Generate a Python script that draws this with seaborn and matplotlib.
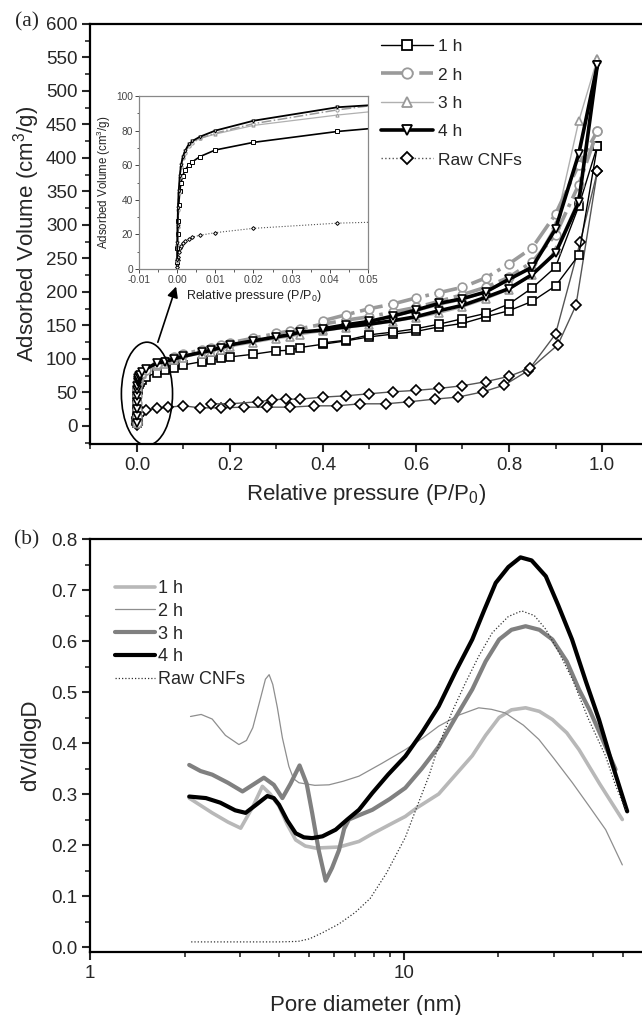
import matplotlib
matplotlib.use("Agg")
import matplotlib.pyplot as plt
import seaborn as sns
import numpy as np
from matplotlib.lines import Line2D
from matplotlib.patches import Ellipse
from matplotlib.ticker import MultipleLocator, FixedLocator, NullFormatter

# ---------------- data: panel (a) N2 isotherms ----------------
SAMPLES = ["1 h", "2 h", "3 h", "4 h", "Raw CNFs"]

P_ADS = [1e-5, 5e-5, 1e-4, 2e-4, 4e-4, 7e-4, 0.001, 0.0015, 0.002, 0.003, 0.004, 0.006, 0.01, 0.02, 0.042,
         0.06, 0.08, 0.10, 0.14, 0.16, 0.18, 0.20, 0.25, 0.30, 0.33, 0.35, 0.40, 0.45, 0.50, 0.55, 0.60,
         0.65, 0.70, 0.75, 0.80, 0.85, 0.90, 0.95, 0.99]
V_ADS_1H = [4, 12, 20, 28, 37, 45, 50, 54, 57, 60, 62, 65, 68.8, 73.2, 79.5,
            83, 87, 91, 96, 98, 101, 103, 107, 112, 113, 117, 122, 127, 133, 137, 141,
            148, 153, 163, 172, 186, 209, 255, 418]
V_ADS_2H = [4.5, 14, 24, 34, 44, 53, 59, 64, 67, 71, 73, 75.5, 78.5, 84, 92,
            97, 103, 107, 114, 117, 121, 124, 131, 138, 142, 145, 152, 158, 163, 170, 177,
            186, 196, 207, 222, 245, 285, 360, 440]
V_ADS_3H = [5, 15, 25, 35, 45, 54, 60, 65, 68, 71.5, 73.5, 75.5, 78, 83, 89,
            93, 98, 102, 108, 111, 114, 118, 124, 130, 133, 136, 141, 146, 150, 155, 161,
            168, 177, 189, 203, 225, 262, 340, 548]
V_ADS_4H = [5, 15, 25, 35, 45, 54, 60, 65, 68, 72, 74, 76.5, 80, 85.7, 93.5,
            96, 100, 104, 110, 113, 117, 121, 127, 133, 136, 140, 143, 148, 152, 157, 163,
            172, 180, 192, 205, 226, 258, 334, 539]

P_DES = [0.99, 0.95, 0.90, 0.85, 0.80, 0.75, 0.70, 0.65, 0.60, 0.55, 0.50, 0.45, 0.40]
V_DES_1H = [418, 328, 237, 206, 182, 168, 160, 152, 145, 140, 136, 128, 124]
V_DES_2H = [440, 390, 316, 266, 242, 221, 207, 199, 191, 182, 175, 166, 157]
V_DES_3H = [548, 455, 300, 240, 217, 199, 188, 180, 171, 163, 156, 150, 143]
V_DES_4H = [539, 406, 294, 237, 219, 200, 190, 183, 173, 164, 156, 151, 145]

P_RAW_ADS = [1e-5, 5e-5, 1e-4, 2e-4, 4e-4, 7e-4, 0.001, 0.0015, 0.002, 0.003, 0.004, 0.006, 0.01, 0.02, 0.042,
             0.067, 0.10, 0.135, 0.18, 0.23, 0.28, 0.33, 0.38, 0.43, 0.48, 0.535, 0.585, 0.64, 0.69,
             0.745, 0.79, 0.84, 0.905, 0.944, 0.99]
V_RAW_ADS = [1, 3, 5, 7, 10, 12, 13.5, 15, 16, 17.5, 18.5, 19.5, 21, 23.5, 26.5,
             28, 30, 27, 27, 28, 28, 28, 30, 30, 33, 33, 36, 40, 43,
             51, 61, 82, 121, 180, 380]
P_RAW_DES = [0.99, 0.953, 0.90, 0.845, 0.80, 0.75, 0.70, 0.65, 0.60, 0.55, 0.50, 0.45, 0.40,
             0.35, 0.32, 0.29, 0.26, 0.20, 0.16]
V_RAW_DES = [380, 274, 137, 86, 74, 66, 60, 56, 53, 51, 48, 45, 43, 40, 40, 39, 36, 33, 33]

# ---------------- data: panel (b) pore size distribution ----------------
D_1H = [2.07, 2.45, 2.75, 3.02, 3.3, 3.54, 3.75, 4.0, 4.25, 4.52, 4.85, 5.23, 6.21, 7.19, 7.93, 9.2,
        10.1, 11.0, 12.9, 14.0, 15.2, 16.5, 18.2, 20.1, 22, 24.4, 27, 29.7, 33, 36.1, 42, 49.6]
PSD_1H = [0.292, 0.263, 0.245, 0.233, 0.275, 0.315, 0.300, 0.276, 0.240, 0.210, 0.198, 0.194, 0.196,
          0.207, 0.222, 0.243, 0.256, 0.273, 0.300, 0.325, 0.350, 0.375, 0.415, 0.450, 0.465, 0.469,
          0.462, 0.446, 0.420, 0.387, 0.320, 0.250]
D_2H = [2.09, 2.26, 2.45, 2.7, 2.98, 3.15, 3.3, 3.5, 3.62, 3.72, 3.82, 3.95, 4.1, 4.3, 4.45, 4.63,
        5.2, 5.77, 6.4, 7.19, 8.5, 10.1, 11.5, 12.9, 15, 17.3, 19, 21, 24, 26.9, 30, 34.4, 39, 43.9, 49.6]
PSD_2H = [0.452, 0.456, 0.447, 0.415, 0.397, 0.405, 0.430, 0.490, 0.525, 0.534, 0.515, 0.470, 0.410,
          0.354, 0.330, 0.322, 0.317, 0.318, 0.325, 0.335, 0.360, 0.387, 0.410, 0.433, 0.455, 0.469,
          0.466, 0.459, 0.435, 0.407, 0.370, 0.322, 0.275, 0.230, 0.161]
D_3H = [2.07, 2.25, 2.45, 2.75, 3.06, 3.3, 3.58, 3.85, 4.10, 4.35, 4.65, 4.9, 5.1, 5.35, 5.63, 5.9,
        6.21, 6.45, 6.68, 7.3, 7.93, 9.0, 10.1, 11.4, 12.9, 14.6, 16.5, 18.2, 20.1, 22, 24.4, 27,
        29.7, 33, 36.1, 39, 42, 47.2]
PSD_3H = [0.357, 0.345, 0.338, 0.322, 0.305, 0.318, 0.332, 0.318, 0.292, 0.320, 0.356, 0.320, 0.263,
          0.190, 0.130, 0.155, 0.190, 0.232, 0.250, 0.260, 0.269, 0.290, 0.312, 0.350, 0.393, 0.450,
          0.505, 0.560, 0.603, 0.622, 0.629, 0.622, 0.603, 0.560, 0.505, 0.465, 0.420, 0.348]
D_4H = [2.07, 2.34, 2.6, 2.9, 3.13, 3.4, 3.67, 3.85, 4.0, 4.25, 4.52, 4.8, 5.1, 5.5, 6.06, 6.6, 7.19,
        7.93, 8.9, 10.1, 11.4, 12.9, 14.6, 16.5, 18, 19.6, 21.5, 23.5, 25.5, 28.3, 31, 34.3, 38,
        41.8, 46, 51.4]
PSD_4H = [0.295, 0.292, 0.283, 0.268, 0.263, 0.280, 0.296, 0.292, 0.279, 0.248, 0.223, 0.215, 0.2135,
          0.217, 0.230, 0.250, 0.269, 0.302, 0.338, 0.374, 0.420, 0.472, 0.540, 0.603, 0.660, 0.714,
          0.745, 0.764, 0.758, 0.727, 0.670, 0.603, 0.520, 0.446, 0.360, 0.266]
D_RAW = [2.1, 3.0, 4.0, 4.6, 5.0, 5.5, 6.2, 7.0, 7.8, 8.8, 10.1, 11.0, 12.0, 12.9, 14.2, 15.7, 17.3,
         19.1, 21.5, 23.7, 26, 28.3, 31, 34.4, 38.5, 43.9, 47, 50.8]
PSD_RAW = [0.01, 0.01, 0.01, 0.011, 0.016, 0.028, 0.045, 0.068, 0.095, 0.145, 0.215, 0.275, 0.335,
           0.395, 0.460, 0.518, 0.570, 0.616, 0.648, 0.659, 0.650, 0.623, 0.580, 0.525, 0.450, 0.374,
           0.320, 0.269]

# ---------------- style ----------------
sns.set_style("ticks")
plt.rcParams["font.family"] = ["Liberation Sans", "DejaVu Sans"]
plt.rcParams["mathtext.fontset"] = "custom"
plt.rcParams["mathtext.rm"] = "Liberation Sans"
plt.rcParams["mathtext.it"] = "Liberation Sans:italic"

W, H = 642, 1015
fig = plt.figure(figsize=(W / 100, H / 100), dpi=100)


def box(l, t, r, b):
    return [l / W, 1 - b / H, (r - l) / W, (b - t) / H]


ax1 = fig.add_axes(box(90, 24, 642, 444))
ax2 = fig.add_axes(box(90, 539, 642, 952))

# styles for panel (a): main line width, inset line width
ISO = {
    "1 h": dict(color="black", lw=1.0, lwi=1.2, ls="-", marker="s", mec="black"),
    "2 h": dict(color="#9a9a9a", lw=2.6, lwi=1.1, ls="-.", marker="o", mec="#9a9a9a"),
    "3 h": dict(color="#b0b0b0", lw=1.0, lwi=0.9, ls="-", marker="^", mec="#999999"),
    "4 h": dict(color="black", lw=2.6, lwi=1.3, ls="-", marker="v", mec="black"),
    "Raw CNFs": dict(color="#555555", lw=1.0, lwi=0.8, ls=":", marker="D", mec="black"),
}
ISO_DATA = {
    "1 h": [(P_ADS, V_ADS_1H), (P_DES, V_DES_1H)],
    "2 h": [(P_ADS, V_ADS_2H), (P_DES, V_DES_2H)],
    "3 h": [(P_ADS, V_ADS_3H), (P_DES, V_DES_3H)],
    "4 h": [(P_ADS, V_ADS_4H), (P_DES, V_DES_4H)],
    "Raw CNFs": [(P_RAW_ADS, V_RAW_ADS), (P_RAW_DES, V_RAW_DES)],
}


def draw_iso(ax, ms, mew, inset):
    for s in ["Raw CNFs", "1 h", "3 h", "2 h", "4 h"]:
        st = ISO[s]
        lw = st["lwi"] if inset else st["lw"]
        if s == "Raw CNFs":
            ls = ":" if inset else "-"
        else:
            ls = st["ls"]
        for (px, vy) in ISO_DATA[s]:
            sns.lineplot(x=px, y=vy, ax=ax, estimator=None, sort=True,
                         color=st["color"], linewidth=lw, linestyle=ls,
                         marker=st["marker"], markersize=ms if st["marker"] != "D" else ms * 0.85,
                         markerfacecolor="white", markeredgecolor=st["mec"],
                         markeredgewidth=mew)


draw_iso(ax1, 6.3, 1.2, False)
ax1.set_xlim(-0.101, 1.086)
ax1.set_ylim(-27, 600)
ax1.xaxis.set_major_locator(FixedLocator([0.0, 0.2, 0.4, 0.6, 0.8, 1.0]))
ax1.xaxis.set_minor_locator(MultipleLocator(0.1))
ax1.yaxis.set_major_locator(MultipleLocator(50))
ax1.yaxis.set_minor_locator(MultipleLocator(25))
ax1.set_xticklabels(["0.0", "0.2", "0.4", "0.6", "0.8", "1.0"])
ax1.set_xlabel("Relative pressure (P/P$_0$)", fontsize=16, labelpad=6)
ax1.set_ylabel("Adsorbed Volume (cm$^3$/g)", fontsize=16, labelpad=3)

# ellipse and arrow
ax1.add_patch(Ellipse((0.0215, 48), width=0.11, height=154, fill=False, lw=1.2, ec="black", zorder=5))
ax1.annotate("", xy=(0.086, 212), xytext=(0.043, 121),
             arrowprops=dict(arrowstyle="-|>", color="black", lw=1.2, mutation_scale=16), zorder=5)

leg_a = [Line2D([], [], color=ISO[s]["color"], lw=ISO[s]["lw"], ls=ISO[s]["ls"],
                marker=ISO[s]["marker"], ms=7.5 if s != "Raw CNFs" else 6.5, mfc="white",
                mec=ISO[s]["mec"], mew=1.3) for s in SAMPLES]
ax1.legend(leg_a, SAMPLES, loc="upper left", bbox_to_anchor=(381 / W, 1 - 39 / H),
           bbox_transform=fig.transFigure, frameon=False, fontsize=12.5, handlelength=3.0,
           handletextpad=0.3, labelspacing=0.76, borderpad=0, borderaxespad=0)

# inset
axi = fig.add_axes(box(139, 96, 368, 269))
draw_iso(axi, 2.3, 0.7, True)
axi.set_xlim(-0.01, 0.05)
axi.set_ylim(0, 100)
axi.xaxis.set_major_locator(MultipleLocator(0.01))
axi.xaxis.set_minor_locator(MultipleLocator(0.005))
axi.yaxis.set_major_locator(MultipleLocator(20))
axi.yaxis.set_minor_locator(MultipleLocator(10))
axi.set_xticklabels([f"{v:.2f}" for v in axi.get_xticks()])
axi.set_xlabel("Relative pressure (P/P$_0$)", fontsize=9, labelpad=2, color="#222222")
axi.set_ylabel("Adsorbed Volume (cm$^3$/g)", fontsize=8.3, labelpad=2, color="#222222")
axi.tick_params(which="major", length=3, width=0.7, labelsize=7.3, colors="#444444", pad=1.5)
axi.tick_params(which="minor", length=1.8, width=0.6, colors="#444444")
for sp in axi.spines.values():
    sp.set_color("#888888")
    sp.set_linewidth(0.9)
axi.set_facecolor("white")

# ---------------- panel (b) ----------------
PSD = [
    ("1 h", D_1H, PSD_1H, dict(color="#b8b8b8", lw=2.6, ls="-")),
    ("2 h", D_2H, PSD_2H, dict(color="#8e8e8e", lw=0.9, ls="-")),
    ("3 h", D_3H, PSD_3H, dict(color="#808080", lw=3.0, ls="-")),
    ("4 h", D_4H, PSD_4H, dict(color="black", lw=3.0, ls="-")),
    ("Raw CNFs", D_RAW, PSD_RAW, dict(color="#333333", lw=0.9, ls=(0, (1, 1.6)))),
]
for name, d, v, st in PSD:
    sns.lineplot(x=d, y=v, ax=ax2, estimator=None, sort=True, color=st["color"],
                 linewidth=st["lw"], linestyle=st["ls"], label=name)
ax2.set_xscale("log")
ax2.set_xlim(1, 57.3)
ax2.xaxis.set_major_locator(FixedLocator([1, 10]))
ax2.set_xticklabels(["1", "10"])
ax2.xaxis.set_minor_locator(FixedLocator([2, 3, 4, 5, 6, 7, 8, 9, 20, 30, 40, 50]))
ax2.xaxis.set_minor_formatter(NullFormatter())
ax2.yaxis.set_major_locator(FixedLocator([0.0, 0.1, 0.2, 0.3, 0.4, 0.5, 0.6, 0.7, 0.8]))
ax2.yaxis.set_minor_locator(MultipleLocator(0.05))
ax2.set_yticklabels(["0.0", "0.1", "0.2", "0.3", "0.4", "0.5", "0.6", "0.7", "0.8"])
ax2.set_ylim(-0.0098, 0.8)
ax2.set_xlabel("Pore diameter (nm)", fontsize=16, labelpad=10)
ax2.set_ylabel("dV/dlogD", fontsize=16, labelpad=7)
ax2.legend(loc="upper left", bbox_to_anchor=(115 / W, 1 - 580 / H), bbox_transform=fig.transFigure,
           frameon=False, fontsize=13, handlelength=2.2, handletextpad=0.2, labelspacing=0.32,
           borderpad=0, borderaxespad=0)

for ax in (ax1, ax2):
    ax.spines["right"].set_visible(False)
    for sp in ("left", "bottom", "top"):
        ax.spines[sp].set_linewidth(1.6)
        ax.spines[sp].set_color("black")
    ax.tick_params(which="major", direction="out", length=6, width=1.5, labelsize=13.5, pad=3,
                   top=False, right=False)
    ax.tick_params(which="minor", direction="out", length=3.5, width=1.2, top=False, right=False)

fig.text(27 / W, 1 - 22 / H, "(a)", fontsize=15.5, ha="center", va="center",
         family=["Liberation Serif", "DejaVu Serif"])
fig.text(27 / W, 1 - 540 / H, "(b)", fontsize=15.5, ha="center", va="center",
         family=["Liberation Serif", "DejaVu Serif"])

fig.savefig("out.png", dpi=100)
